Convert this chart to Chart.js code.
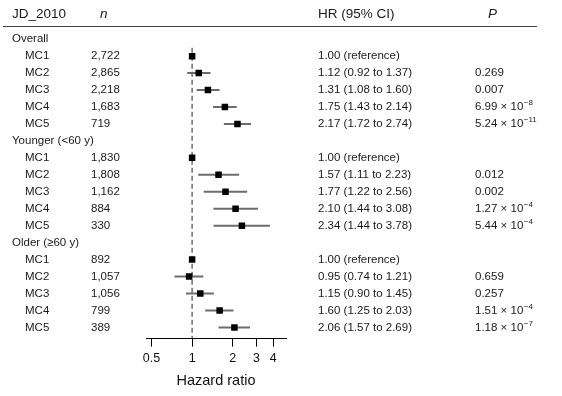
<!DOCTYPE html>
<html>
<head>
<meta charset="utf-8">
<script src="https://cdn.jsdelivr.net/npm/chart.js@4.4.0/dist/chart.umd.min.js"></script>
<style>
  html, body { margin: 0; padding: 0; background: #fff; }
</style>
</head>
<body>
<canvas id="forest" width="562" height="396"></canvas>
<script>
// data
const groups = ['Overall', 'Younger (<60 y)', 'Older (\u226560 y)'];
const categories = ['MC1', 'MC2', 'MC3', 'MC4', 'MC5'];

const nOverall = [2722, 2865, 2218, 1683, 719];
const hrOverall = [1.00, 1.12, 1.31, 1.75, 2.17];
const loOverall = [1.00, 0.92, 1.08, 1.43, 1.72];
const hiOverall = [1.00, 1.37, 1.60, 2.14, 2.74];
const pOverall = ['', '0.269', '0.007', '6.99e-8', '5.24e-11'];

const nYounger = [1830, 1808, 1162, 884, 330];
const hrYounger = [1.00, 1.57, 1.77, 2.10, 2.34];
const loYounger = [1.00, 1.11, 1.22, 1.44, 1.44];
const hiYounger = [1.00, 2.23, 2.56, 3.08, 3.78];
const pYounger = ['', '0.012', '0.002', '1.27e-4', '5.44e-4'];

const nOlder = [892, 1057, 1056, 799, 389];
const hrOlder = [1.00, 0.95, 1.15, 1.60, 2.06];
const loOlder = [1.00, 0.74, 0.90, 1.25, 1.57];
const hiOlder = [1.00, 1.21, 1.45, 2.03, 2.69];
const pOlder = ['', '0.659', '0.257', '1.51e-4', '1.18e-7'];

const xTicks = [0.5, 1, 2, 3, 4];

const FONT = "'Liberation Sans', Arial, sans-serif";
Chart.defaults.font.family = FONT;

// build rows: a header row per group followed by its categories
const groupData = [
  [nOverall, hrOverall, loOverall, hiOverall, pOverall],
  [nYounger, hrYounger, loYounger, hiYounger, pYounger],
  [nOlder, hrOlder, loOlder, hiOlder, pOlder]
];
const rows = [];
let r = 0;
groups.forEach((g, gi) => {
  rows.push({ y: r++, header: g });
  const [n, hr, lo, hi, p] = groupData[gi];
  categories.forEach((c, i) => {
    rows.push({ y: r++, label: c, n: n[i], hr: hr[i], lo: lo[i], hi: hi[i], p: p[i] });
  });
});
const lastRow = r - 1;
const dataRows = rows.filter(d => d.label);

const datasets = [];
datasets.push({
  data: dataRows.map(d => ({ x: d.hr, y: d.y })),
  pointStyle: 'rect',
  pointRadius: 4.6,
  backgroundColor: '#000',
  borderWidth: 0,
  order: 0
});
dataRows.forEach(d => {
  if (d.lo === d.hi) return;
  datasets.push({
    data: [{ x: d.lo, y: d.y }, { x: d.hi, y: d.y }],
    showLine: true,
    borderColor: '#6c6c6c',
    borderWidth: 2,
    pointRadius: 0,
    order: 1
  });
});
datasets.push({
  data: [{ x: 1, y: 0.5 }, { x: 1, y: lastRow + 0.66 }],
  showLine: true,
  borderColor: '#555',
  borderWidth: 1.3,
  borderDash: [5, 3],
  pointRadius: 0,
  order: 2
});

function fmtHR(d) {
  if (d.lo === d.hi) return d.hr.toFixed(2) + ' (reference)';
  return d.hr.toFixed(2) + ' (' + d.lo.toFixed(2) + ' to ' + d.hi.toFixed(2) + ')';
}

const tablePlugin = {
  id: 'table',
  afterDraw(chart) {
    const ctx = chart.ctx;
    const ys = chart.scales.y;
    ctx.save();
    ctx.fillStyle = '#1a1a1a';
    ctx.textBaseline = 'middle';
    ctx.textAlign = 'left';

    // header
    ctx.font = '13.5px ' + FONT;
    ctx.fillText('JD_2010', 12, 14);
    ctx.fillText('HR (95% CI)', 318, 14);
    ctx.font = 'italic 13.5px ' + FONT;
    ctx.fillText('n', 100, 14);
    ctx.fillText('P', 488, 14);
    ctx.strokeStyle = '#444';
    ctx.lineWidth = 1;
    ctx.beginPath();
    ctx.moveTo(3, 26.5);
    ctx.lineTo(537, 26.5);
    ctx.stroke();

    rows.forEach(d => {
      const y = ys.getPixelForValue(d.y);
      ctx.font = '11.5px ' + FONT;
      if (d.header) {
        ctx.fillText(d.header, 12, y);
        return;
      }
      ctx.fillText(d.label, 25, y);
      ctx.fillText(d.n.toLocaleString('en-US'), 91, y);
      ctx.fillText(fmtHR(d), 318, y);
      if (!d.p) return;
      if (d.p.indexOf('e') < 0) {
        ctx.fillText(d.p, 475, y);
      } else {
        const [m, e] = d.p.split('e');
        const base = m + ' \u00d7 10';
        ctx.fillText(base, 475, y);
        const w = ctx.measureText(base).width;
        ctx.font = '8px ' + FONT;
        ctx.fillText(e.replace('-', '\u2212'), 475 + w + 0.5, y - 4);
      }
    });
    ctx.restore();
  }
};

new Chart(document.getElementById('forest'), {
  type: 'scatter',
  data: { datasets },
  options: {
    responsive: false,
    animation: false,
    layout: { padding: { left: 146, right: 276, top: 2, bottom: 4 } },
    plugins: { legend: { display: false }, tooltip: { enabled: false } },
    scales: {
      x: {
        type: 'logarithmic',
        min: 0.455,
        max: 4.97,
        afterBuildTicks: s => { s.ticks = xTicks.map(v => ({ value: v })); },
        ticks: {
          callback: v => String(v),
          autoSkip: false,
          maxRotation: 0,
          padding: 4,
          color: '#111',
          font: { size: 12.5 }
        },
        grid: { drawOnChartArea: false, tickLength: 8, color: '#000' },
        border: { color: '#000', width: 1 },
        title: {
          display: true,
          text: 'Hazard ratio',
          color: '#111',
          font: { size: 14.5 },
          padding: { top: 3, bottom: 2 }
        }
      },
      y: {
        type: 'linear',
        display: false,
        reverse: true,
        min: -2.04,
        max: lastRow + 0.66
      }
    }
  },
  plugins: [tablePlugin]
});
</script>
</body>
</html>
